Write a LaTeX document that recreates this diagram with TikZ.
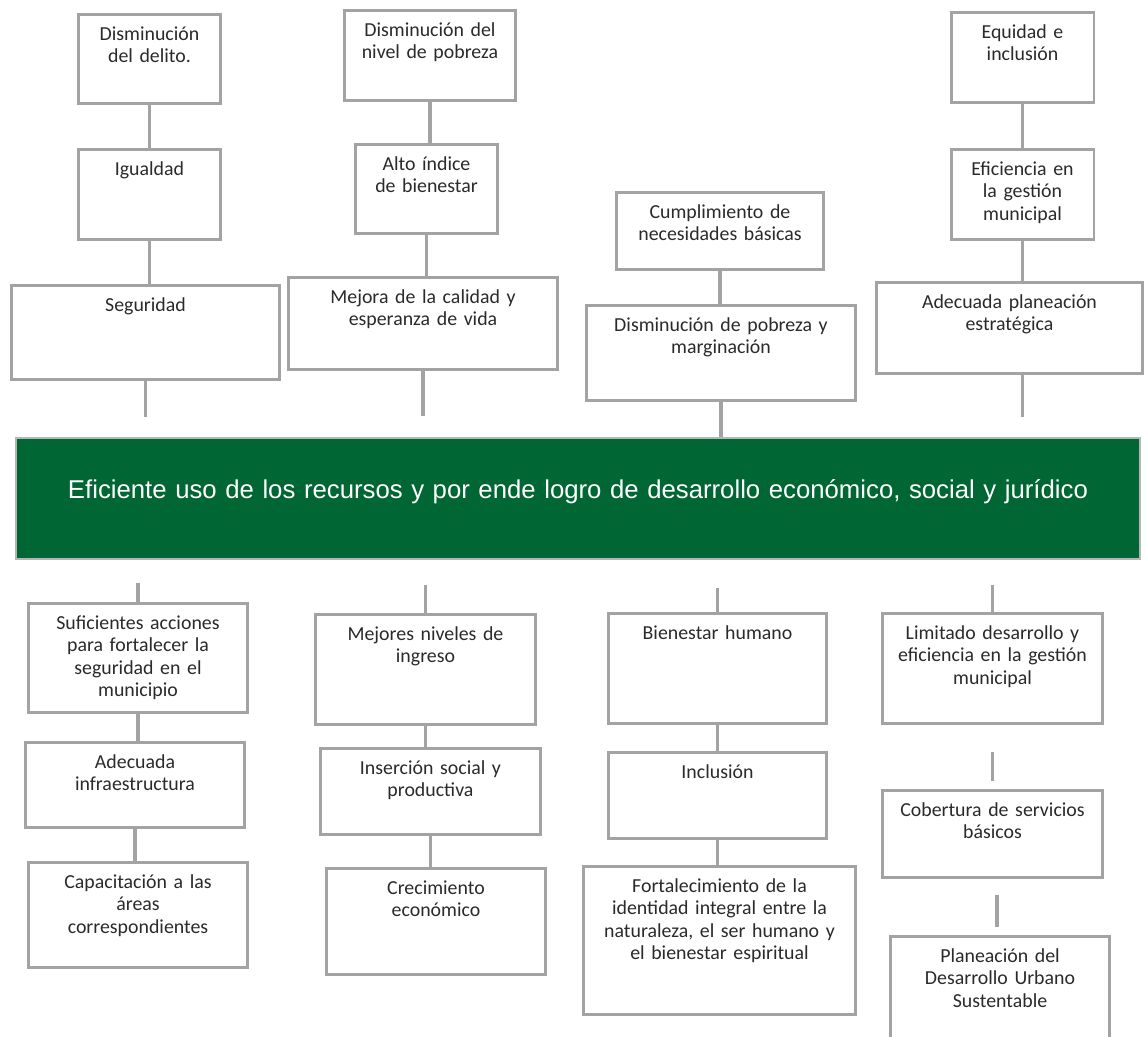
\documentclass[tikz,border=0pt]{standalone}
\usepackage{fontspec}
\setmainfont{Carlito}
\newfontfamily\goalfont{Liberation Sans}
\usetikzlibrary{calc}

\definecolor{linegray}{HTML}{A3A3A3}
\definecolor{goalgreen}{HTML}{006633}
\definecolor{textgray}{HTML}{2A2A2A}

\tikzset{
    box/.style 2 args={draw=linegray, line width=1.7pt, anchor=north, inner sep=0pt,
        text width=#1, align=center, text height=0.52cm, text depth=#2,
        font=\fontsize{11.3}{12.8}\selectfont, text=textgray},
    goal/.style={fill=goalgreen, draw=linegray!80, line width=1pt, anchor=north, inner sep=0pt,
        text width=22.48cm, align=center, text height=1.22cm, text depth=1.20cm,
        font=\goalfont\fontsize{14.65}{17}\selectfont, text=white},
    link/.style={draw=linegray, line width=1.8pt}
}

\begin{document}
\begin{tikzpicture}[x=0.02cm, y=-0.02cm]
    \useasboundingbox (0,0) rectangle (1147,1036);

    % Goal
    \node[goal] (goal) at (578,437) {Eficiente uso de los recursos y por ende logro de desarrollo económico, social y jurídico};

    % Column 1 (top)
    \node[box={2.86cm}{1.26cm}] (a1) at (149.5,13) {Disminución\\del delito.};
    \node[box={2.86cm}{1.28cm}] (a2) at (149.5,148) {Igualdad};
    \node[box={5.38cm}{1.36cm}] (a3) at (145.5,284) {Seguridad};
    \draw[link] (a1.south) -- (a1.south |- a2.north);
    \draw[link] (a2.south) -- (a2.south |- a3.north);
    \draw[link] (a3.south) -- ++(0,36);

    % Column 2 (top)
    \node[box={3.44cm}{1.28cm}] (b1) at (430,9) {Disminución del\\nivel de pobreza};
    \node[box={2.86cm}{1.26cm}] (b2) at (426.5,143) {Alto índice\\de bienestar};
    \node[box={5.40cm}{1.32cm}] (b3) at (423,276) {Mejora de la calidad y\\esperanza de vida};
    \draw[link] (b1.south) -- (b1.south |- b2.north);
    \draw[link] (b2.south) -- (b2.south |- b3.north);
    \draw[link] (b3.south) -- ++(0,45);

    % Column 3 (top)
    \node[box={4.16cm}{1.02cm}] (c1) at (720,191) {Cumplimiento de\\necesidades básicas};
    \node[box={5.40cm}{1.38cm}] (c2) at (721,304) {Disminución de pobreza y\\marginación};
    \draw[link] (c1.south) -- (c1.south |- c2.north);
    \draw[link] (c2.south) -- (c2.south |- goal.north);

    % Column 4 (top)
    \node[box={2.86cm}{1.28cm}] (d1) at (1022.5,11) {Equidad e\\inclusión};
    \node[box={2.86cm}{1.28cm}] (d2) at (1022.5,148) {Eficiencia en\\la gestión\\municipal};
    \node[box={5.34cm}{1.30cm}] (d3) at (1009.5,281) {Adecuada planeación\\estratégica};
    \draw[link] (d1.south) -- (d1.south |- d2.north);
    \draw[link] (d2.south) -- (d2.south |- d3.north);
    \draw[link] ($(d3.south)+(13,0)$) -- ++(0,42);

    % Column 1 (bottom)
    \node[box={4.40cm}{1.66cm}] (e1) at (138,602) {Suficientes acciones\\para fortalecer la\\seguridad en el\\municipio};
    \node[box={4.40cm}{1.18cm}] (e2) at (135,741) {Adecuada\\infraestructura};
    \node[box={4.40cm}{1.58cm}] (e3) at (138,861) {Capacitación a las\\áreas\\correspondientes};
    \draw[link] (e1.north) -- ++(0,-19);
    \draw[link] (e1.south) -- (e1.south |- e2.north);
    \draw[link] (e2.south) -- (e2.south |- e3.north);

    % Column 2 (bottom)
    \node[box={4.42cm}{1.68cm}] (f1) at (425.5,613) {Mejores niveles de\\ingreso};
    \node[box={4.42cm}{1.20cm}] (f2) at (430.5,747) {Inserción social y\\productiva};
    \node[box={4.40cm}{1.60cm}] (f3) at (436,867) {Crecimiento\\económico};
    \draw[link] (f1.north) -- ++(0,-28);
    \draw[link] (f1.south) -- (f1.south |- f2.north);
    \draw[link] (f2.south) -- (f2.south |- f3.north);

    % Column 3 (bottom)
    \node[box={4.38cm}{1.68cm}] (g1) at (717.5,612) {Bienestar humano};
    \node[box={4.38cm}{1.20cm}] (g2) at (717.5,751) {Inclusión};
    \node[box={5.46cm}{2.44cm}] (g3) at (719.5,865) {Fortalecimiento de la\\identidad integral entre la\\naturaleza, el ser humano y\\el bienestar espiritual};
    \draw[link] (g1.north) -- ++(0,-24);
    \draw[link] (g1.south) -- (g1.south |- g2.north);
    \draw[link] (g2.south) -- (g2.south |- g3.north);

    % Column 4 (bottom)
    \node[box={4.42cm}{1.68cm}] (h1) at (992.5,612) {Limitado desarrollo y\\eficiencia en la gestión\\municipal};
    \node[box={4.42cm}{1.22cm}] (h2) at (992.5,789) {Cobertura de servicios\\básicos};
    \node[box={4.40cm}{1.78cm}] (h3) at (1000,935) {Planeación del\\Desarrollo Urbano\\Sustentable};
    \draw[link] (h1.north) -- ++(0,-27);
    \draw[link] ($(h2.north)+(0,-8)$) -- ++(0,-29);
    \draw[link] ($(h3.north)+(-3,-8)$) -- ++(0,-32);
\end{tikzpicture}
\end{document}
